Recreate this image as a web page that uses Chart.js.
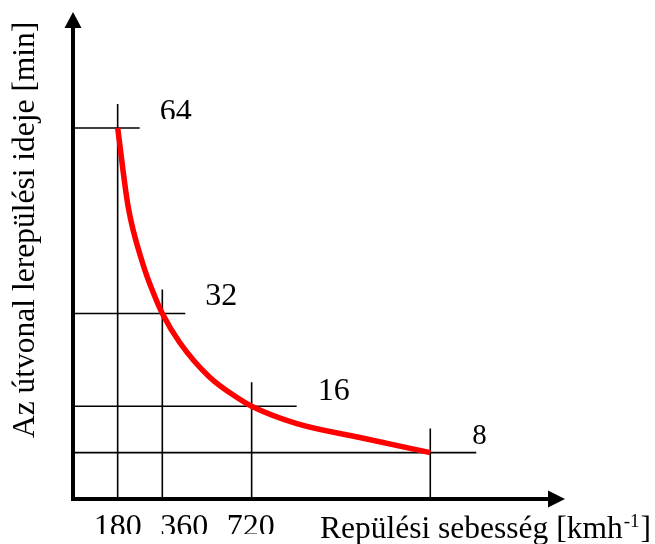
<!DOCTYPE html>
<html>
<head>
<meta charset="utf-8">
<script src="https://cdn.jsdelivr.net/npm/chart.js@4"></script>
<style>
    html, body { margin: 0; padding: 0; background: #fff; }
    #wrap { width: 655px; height: 544px; }
</style>
</head>
<body>
<div id="wrap"><canvas id="grafikon" width="655" height="544"></canvas></div>
<script>
// ---------------- ADATOK ----------------
// a görbe leolvasott pontjai (sebesség km/h -> idő perc)
const sebessegek = [180, 222, 282, 329, 360, 430, 551, 672, 720, 902, 1156, 1440];
const idok = [64, 50.5, 40.5, 35, 32, 27, 21, 17.2, 16, 13, 10.6, 8];

// jelölt pontok: segédvonalak + feliratok
const jeloltSebesseg = [180, 360, 720, 1440];
const jeloltIdo = [64, 32, 16, 8];
const idoFeliratok = ["64", "32", "16", "8"];
const sebessegFeliratok = ["180", "360", "720"];

const xCim = "Repülési sebesség [kmh";
const xCimFelso = "-1";
const yCim = "Az útvonal lerepülési ideje [min]";

// ---------------- RAJZOLÁS ----------------
const BETU = '"Liberation Serif", "Times New Roman", serif';

// segédvonalak túlnyúlása és a feliratok eltolása (pixel)
const vizszintesTul = [22, 23, 45, 46];
const fuggolegesTul = 24;
const feliratEltolas = [[42, -7, 32], [43, -8, 32], [66, -6, 32], [42, -9, 29]];
const tengelyFeliratEltolas = [0, 22, -1];

const rajzPlugin = {
    id: "rajz",
    beforeDatasetsDraw(chart) {
        const { ctx, scales: { x, y } } = chart;
        const x0 = x.getPixelForValue(0);
        const y0 = y.getPixelForValue(0);

        ctx.save();
        ctx.strokeStyle = "#000";
        ctx.lineWidth = 1.6;
        jeloltSebesseg.forEach((v, i) => {
            const px = x.getPixelForValue(v);
            const py = y.getPixelForValue(jeloltIdo[i]);
            ctx.beginPath();
            ctx.moveTo(x0, py);
            ctx.lineTo(px + vizszintesTul[i], py);
            ctx.moveTo(px, y0);
            ctx.lineTo(px, py - fuggolegesTul);
            ctx.stroke();
        });
        ctx.restore();
    },
    afterDraw(chart) {
        const { ctx, scales: { x, y }, chartArea } = chart;
        const x0 = x.getPixelForValue(0);
        const y0 = y.getPixelForValue(0);

        // tengelyek nyíllal
        ctx.save();
        ctx.strokeStyle = "#000";
        ctx.fillStyle = "#000";
        ctx.lineWidth = 4;
        ctx.beginPath();
        ctx.moveTo(x0, y0 + 2);
        ctx.lineTo(x0, chartArea.top + 15);
        ctx.moveTo(x0 - 2, y0);
        ctx.lineTo(chartArea.right - 16, y0);
        ctx.stroke();

        ctx.beginPath();
        ctx.moveTo(x0, chartArea.top);
        ctx.lineTo(x0 - 8.5, chartArea.top + 16);
        ctx.lineTo(x0 + 8.5, chartArea.top + 16);
        ctx.closePath();
        ctx.fill();

        ctx.beginPath();
        ctx.moveTo(chartArea.right, y0);
        ctx.lineTo(chartArea.right - 17, y0 - 8.5);
        ctx.lineTo(chartArea.right - 17, y0 + 8.5);
        ctx.closePath();
        ctx.fill();

        // idő feliratok a pontok mellett
        ctx.textBaseline = "alphabetic";
        ctx.textAlign = "left";
        idoFeliratok.forEach((t, i) => {
            const px = x.getPixelForValue(jeloltSebesseg[i]);
            const py = y.getPixelForValue(jeloltIdo[i]);
            const [dx, dy, meret] = feliratEltolas[i];
            ctx.save();
            if (i === 0) {
                // az eredetin a 64 alja le van vágva
                ctx.beginPath();
                ctx.rect(px, 0, 120, py - 9);
                ctx.clip();
            }
            ctx.font = meret + "px " + BETU;
            ctx.fillText(t, px + dx, py + dy);
            ctx.restore();
        });

        // sebesség feliratok (alul levágva, mint az eredetin)
        ctx.save();
        ctx.beginPath();
        ctx.rect(0, 0, 300, 534);
        ctx.clip();
        ctx.font = "32px " + BETU;
        ctx.textAlign = "center";
        sebessegFeliratok.forEach((t, i) => {
            const px = x.getPixelForValue(jeloltSebesseg[i]);
            ctx.fillText(t, px + tengelyFeliratEltolas[i], 536);
        });
        ctx.restore();

        // x tengely címe felső indexszel
        ctx.font = "31.5px " + BETU;
        ctx.textAlign = "left";
        let cx = 320;
        ctx.fillText(xCim, cx, 538);
        cx += ctx.measureText(xCim).width;
        ctx.font = "19px " + BETU;
        ctx.fillText(xCimFelso, cx + 1, 527);
        cx += ctx.measureText(xCimFelso).width + 2;
        ctx.font = "31.5px " + BETU;
        ctx.fillText("]", cx, 538);

        // y tengely címe
        ctx.save();
        ctx.translate(34, 438);
        ctx.rotate(-Math.PI / 2);
        ctx.font = "31.5px " + BETU;
        ctx.textAlign = "left";
        ctx.fillText(yCim, 0, 0);
        ctx.restore();

        ctx.restore();
    }
};

function initGrafikon() {
    const ctx = document.getElementById("grafikon");

    new Chart(ctx, {
        type: "line",
        data: {
            datasets: [
                {
                    label: "Lerepülési idő",
                    data: sebessegek.map((v, i) => ({ x: v, y: idok[i] })),
                    borderColor: "#ff0000",
                    borderWidth: 5.5,
                    pointRadius: 0,
                    fill: false,
                    cubicInterpolationMode: "monotone",
                },
            ],
        },
        options: {
            responsive: false,
            animation: false,
            layout: {
                padding: { left: 73, right: 90, top: 12, bottom: 45 },
            },
            plugins: {
                legend: { display: false },
                tooltip: { enabled: false },
            },
            scales: {
                x: { type: "linear", display: false, min: 0, max: 1983 },
                y: { type: "linear", display: false, min: 0, max: 84 },
            },
        },
        plugins: [rajzPlugin],
    });
}

document.addEventListener("DOMContentLoaded", initGrafikon);
</script>
</body>
</html>
